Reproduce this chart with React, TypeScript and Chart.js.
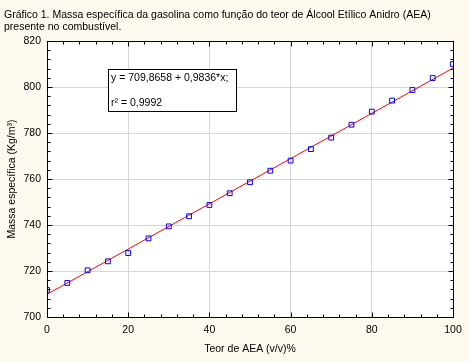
import React, { useEffect, useRef } from "react";
import { Chart, registerables } from "chart.js";

Chart.register(...registerables);

const titleLines = [
  "Gráfico 1. Massa específica da gasolina como função do teor de Álcool Etílico Anidro (AEA)",
  "presente no combustível.",
];
const xTitle = "Teor de AEA (v/v)%";
const yTitle = "Massa específica (Kg/m³)";
const equationLine = "y = 709,8658 + 0,9836*x;";
const r2Line = "r² = 0,9992";

const teorAEA = [0, 5, 10, 15, 20, 25, 30, 35, 40, 45, 50, 55, 60, 65, 70, 75, 80, 85, 90, 95, 100];
const massaEspecifica = [
  711.8, 714.8, 720.3, 724.2, 727.8, 734.2, 739.4, 743.8, 748.7, 753.8, 758.6,
  763.6, 768.0, 773.0, 778.0, 783.6, 789.3, 794.1, 798.7, 803.9, 810.0,
];
const fitIntercept = 709.8658;
const fitSlope = 0.9836;
const fitRange = [0, 100];

const xMin = 0, xMax = 100, xStep = 20, xMinor = 4;
const yMin = 700, yMax = 820, yStep = 20, yMinor = 4;

const FAMILY = "'Liberation Sans', Arial, sans-serif";
const FONT = "10.5px " + FAMILY;
const BG = "#fdf9ee";

const decor = {
  id: "decor",
  beforeDraw(chart: any) {
    const ctx = chart.ctx;
    ctx.save();
    ctx.fillStyle = BG;
    ctx.fillRect(0, 0, chart.width, chart.height);
    const a = chart.chartArea;
    ctx.fillStyle = "#ffffff";
    ctx.fillRect(a.left, a.top, a.right - a.left, a.bottom - a.top);
    ctx.restore();
  },
  afterDraw(chart: any) {
    const ctx = chart.ctx;
    const a = chart.chartArea;
    const xs = chart.scales.x;
    const ys = chart.scales.y;
    ctx.save();
    ctx.strokeStyle = "#000";
    ctx.lineWidth = 1;
    const L = Math.round(a.left) + 0.5;
    const R = Math.round(a.right) + 0.5;
    const T = Math.round(a.top) + 0.5;
    const B = Math.round(a.bottom) + 0.5;
    ctx.strokeRect(L, T, R - L, B - T);
    ctx.beginPath();
    for (let v = xMin; v <= xMax; v += xMinor) {
      const px = Math.round(xs.getPixelForValue(v)) + 0.5;
      const len = v % xStep === 0 ? 5 : 3;
      ctx.moveTo(px, B);
      ctx.lineTo(px, B - len);
      ctx.moveTo(px, T);
      ctx.lineTo(px, T + len);
    }
    for (let v = yMin; v <= yMax; v += yMinor) {
      const py = Math.round(ys.getPixelForValue(v)) + 0.5;
      const len = (v - yMin) % yStep === 0 ? 5 : 3;
      ctx.moveTo(L, py);
      ctx.lineTo(L + len, py);
      ctx.moveTo(R, py);
      ctx.lineTo(R - len, py);
    }
    ctx.stroke();

    // equation box
    ctx.fillStyle = "#ffffff";
    ctx.fillRect(108.5, 69.5, 128, 42);
    ctx.strokeRect(108.5, 69.5, 128, 42);
    ctx.fillStyle = "#000";
    ctx.font = FONT;
    ctx.textAlign = "left";
    ctx.textBaseline = "alphabetic";
    ctx.fillText(equationLine, 111, 81);
    ctx.fillText(r2Line, 111, 106);

    // title
    ctx.fillText(titleLines[0], 4, 18);
    ctx.fillText(titleLines[1], 4, 30);

    // axis titles
    ctx.textAlign = "center";
    ctx.textBaseline = "middle";
    ctx.fillText(xTitle, (a.left + a.right) / 2, 349);
    ctx.translate(12, (a.top + a.bottom) / 2);
    ctx.rotate(-Math.PI / 2);
    ctx.fillText(yTitle, 0, 0);
    ctx.restore();
  },
};

export default function App() {
  const ref = useRef<HTMLCanvasElement>(null);
  useEffect(() => {
    if (!ref.current) return;
    const chart = new Chart(ref.current, {
      type: "scatter",
      data: {
        datasets: [
          {
            label: "Dados",
            data: teorAEA.map((x, i) => ({ x, y: massaEspecifica[i] })),
            pointStyle: "rect",
            pointRadius: 3.4,
            borderColor: "#0000ff",
            backgroundColor: "rgba(0,0,0,0)",
            borderWidth: 1,
            order: 1,
          },
          {
            label: "Ajuste",
            data: fitRange.map((x) => ({ x, y: fitIntercept + fitSlope * x })),
            showLine: true,
            pointRadius: 0,
            borderColor: "#ff0000",
            borderWidth: 1,
            order: 2,
          },
        ],
      },
      options: {
        responsive: false,
        animation: false,
        events: [],
        layout: { padding: { left: 0, right: 16, top: 41, bottom: 0 } },
        plugins: { legend: { display: false }, tooltip: { enabled: false } },
        scales: {
          x: {
            type: "linear",
            min: xMin,
            max: xMax,
            afterFit: (s: any) => { s.height = 45; },
            ticks: { stepSize: xStep, color: "#000", font: { family: FAMILY, size: 10.5 }, padding: 7, maxRotation: 0 },
            grid: { color: "#d6d6d6", drawTicks: false, lineWidth: 1 },
            border: { display: false },
          },
          y: {
            type: "linear",
            min: yMin,
            max: yMax,
            afterFit: (s: any) => { s.width = 47; },
            ticks: { stepSize: yStep, color: "#000", font: { family: FAMILY, size: 10.5 }, padding: 6 },
            grid: { color: "#d6d6d6", drawTicks: false, lineWidth: 1 },
            border: { display: false },
          },
        },
      },
      plugins: [decor],
    });
    return () => chart.destroy();
  }, []);
  return (
    <div style={{ position: "absolute", left: 0, top: 0, width: 469, height: 362 }}>
      <canvas ref={ref} width={469} height={362} style={{ display: "block" }} />
    </div>
  );
}
